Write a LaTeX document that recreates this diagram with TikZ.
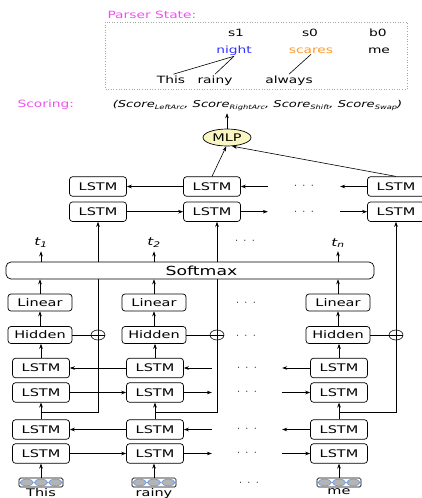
\documentclass[tikz,border=0pt]{standalone}
\usepackage{fontspec}
\setmainfont{DejaVu Sans}[FakeStretch=1.38]
\usepackage{xcolor}
\usepackage{tikz}
\usetikzlibrary{arrows.meta, positioning, shapes.geometric, backgrounds, calc}
\definecolor{titlepink}{HTML}{F050F0}
\definecolor{nightblue}{HTML}{3030FF}
\definecolor{scaresorange}{HTML}{FF9A2E}
\definecolor{mlpyellow}{HTML}{FAF6C2}
\definecolor{cellgray}{HTML}{B4B4B4}
\definecolor{cellblue}{HTML}{6C9BE6}
\newcommand{\sub}[1]{\raisebox{-2.5pt}{\fontsize{6}{7}\selectfont #1}}
\newcommand{\skiptext}{$\cdot\hspace{3pt}\cdot\hspace{3pt}\cdot$}

\begin{document}
\begin{tikzpicture}[
  x=1pt, y=-1pt,
  every node/.style={font=\fontsize{10.5}{12}\selectfont, align=center},
  lstmbox/.style={draw, rounded corners=3pt, fill=white, line width=0.7pt, minimum width=57pt, minimum height=19.5pt, inner sep=0pt},
  ffbox/.style={draw, rounded corners=3pt, fill=white, line width=0.7pt, minimum width=64pt, minimum height=17pt, inner sep=0pt},
  softbox/.style={draw, rounded corners=5pt, fill=white, line width=0.7pt, minimum width=368pt, minimum height=17pt, inner sep=0pt},
  mlpnode/.style={draw, ellipse, fill=mlpyellow, line width=0.7pt, minimum width=48pt, minimum height=17pt, inner sep=0pt},
  plusnode/.style={draw, ellipse, fill=white, line width=0.6pt, minimum width=14pt, minimum height=10pt, inner sep=0pt,
    path picture={\draw (path picture bounding box.west) -- (path picture bounding box.east)
                        (path picture bounding box.north) -- (path picture bounding box.south);}},
  wordvec/.style={draw, rounded corners=1.5pt, line width=0.7pt, minimum width=44pt, minimum height=9pt, inner sep=0pt,
    path picture={\foreach \dx in {-14.3,0,14.3}
      \draw[cellblue, fill=cellgray, line width=0.7pt] ([xshift=\dx pt]path picture bounding box.center) ellipse [x radius=6.6pt, y radius=3.3pt];}},
  skipdots/.style={minimum width=70pt, inner sep=0pt},
  tlabel/.style={font=\fontsize{11}{13}\selectfont\itshape},
  tok/.style={font=\fontsize{10}{12}\selectfont, inner sep=1pt, anchor=base},
  head/.style={font=\fontsize{10}{12}\selectfont, text=titlepink, anchor=base west},
  conn/.style={line width=0.6pt},
  arr/.style={-{Stealth[length=5pt, width=3.6pt]}, line width=0.6pt}
]
\useasboundingbox (0,0) rectangle (422,498);

% Parser state
\node[head] (pstitle) at (104,18.3) {Parser State:};
\draw[dotted, gray!70, line width=0.6pt] (105,22) rectangle (407,89);
\node[tok] (s1) at (236,36.5) {s1};
\node[tok] (s0) at (310,36.5) {s0};
\node[tok] (b0) at (378,36.5) {b0};
\node[tok, text=nightblue] (night) at (234,53) {night};
\node[tok, text=scaresorange] (scares) at (311,53) {scares};
\node[tok] (me) at (379,53) {me};
\node[tok] (this) at (171,83) {This};
\node[tok] (rainy) at (215,83) {rainy};
\node[tok] (always) at (289,83) {always};
\draw[conn] (night.south) -- (this.65);
\draw[conn] (night.south) -- (rainy.north);
\draw[conn] (scares.south) -- (always.north);

% Scoring
\node[head] (sctitle) at (14,107.3) {Scoring:};
\node[tok, font=\fontsize{9.5}{12}\selectfont\itshape] (score) at (257.5,107.3) {(Score\sub{LeftArc}, Score\sub{RightArc}, Score\sub{Shift}, Score\sub{Swap})};
\node[mlpnode] (mlp) at (227,137.5) {MLP};
\draw[arr, shorten >=1pt] (mlp.north) -- (mlp.north |- score.south);

% Upper BiLSTM
\node[lstmbox] (ub1) at (98,186.5) {LSTM};
\node[lstmbox, below=5pt of ub1] (uf1) {LSTM};
\node[lstmbox] (ub2) at (212,186.5) {LSTM};
\node[lstmbox, below=5pt of ub2] (uf2) {LSTM};
\node[lstmbox] (ub3) at (396,186.5) {LSTM};
\node[lstmbox, below=5pt of ub3] (uf3) {LSTM};
\node[skipdots, minimum width=72pt] (ubd) at ($(ub2)!0.5!(ub3)$) {\skiptext};
\node[skipdots, minimum width=72pt] (ufd) at ($(uf2)!0.5!(uf3)$) {\skiptext};
\draw[arr] (ub3.west) -- (ubd.east);
\draw[arr] (ubd.west) -- (ub2.east);
\draw[arr] (ub2.west) -- (ub1.east);
\draw[arr] (uf1.east) -- (uf2.west);
\draw[arr] (uf2.east) -- (ufd.west);
\draw[arr] (ufd.east) -- (uf3.west);
\draw[arr] (ub2.north) -- (mlp.-95);
\draw[arr] (ub3.north) -- (mlp.-60);

% Column 1: This
\node[wordvec] (v1) at (41,482.5) {};
\node[below=0pt of v1, inner sep=1pt] (w1) {This};
\node[lstmbox] (ld1) at (41,453.5) {LSTM};
\node[lstmbox] (lc1) at (41,429.5) {LSTM};
\node[lstmbox] (lb1) at (41,392.5) {LSTM};
\node[lstmbox] (la1) at (41,368) {LSTM};
\node[ffbox] (hid1) at (40,335) {Hidden};
\node[ffbox] (lin1) at (40,302.5) {Linear};
\node[tlabel] (t1) at (41,243) {t\textsubscript{1}};
\node[plusnode] (p1) at (uf1 |- hid1) {};

% Column 2: rainy
\node[wordvec] (v2) at (154,482.5) {};
\node[below=0pt of v2, inner sep=1pt] (w2) {rainy};
\node[lstmbox] (ld2) at (155,453.5) {LSTM};
\node[lstmbox] (lc2) at (155,429.5) {LSTM};
\node[lstmbox] (lb2) at (155,392.5) {LSTM};
\node[lstmbox] (la2) at (155,368) {LSTM};
\node[ffbox] (hid2) at (154,335) {Hidden};
\node[ffbox] (lin2) at (154,302.5) {Linear};
\node[tlabel] (t2) at (154,243) {t\textsubscript{2}};
\node[plusnode] (p2) at (217,335) {};

% Column 3: me
\node[wordvec] (v3) at (339,482.5) {};
\node[below=0pt of v3, inner sep=1pt] (w3) {me};
\node[lstmbox] (ld3) at (339,453.5) {LSTM};
\node[lstmbox] (lc3) at (339,429.5) {LSTM};
\node[lstmbox] (lb3) at (339,392.5) {LSTM};
\node[lstmbox] (la3) at (339,368) {LSTM};
\node[ffbox] (hid3) at (338,335) {Hidden};
\node[ffbox] (lin3) at (338,302.5) {Linear};
\node[tlabel] (t3) at (338,243) {t\textsubscript{n}};
\node[plusnode] (p3) at (uf3 |- hid3) {};

% dots between column 2 and 3
\node[skipdots] (dv) at (249,483) {\skiptext};
\node[skipdots] (dd) at ($(ld2)!0.5!(ld3)$) {\skiptext};
\node[skipdots] (dc) at ($(lc2)!0.5!(lc3)$) {\skiptext};
\node[skipdots] (db) at ($(lb2)!0.5!(lb3)$) {\skiptext};
\node[skipdots] (da) at ($(la2)!0.5!(la3)$) {\skiptext};
\node (dh) at (246,336) {\skiptext};
\node (dl) at (246,303) {\skiptext};
\node (dt) at (245,241) {\skiptext};

% skip lines into the upper BiLSTM (behind softmax)
\begin{scope}[on background layer]
\draw[conn] (lc1.north) -- ++(0,-7) -| (p1.south);
\draw[conn] (lc2.north) -- ++(0,-7) -| (p2.south);
\draw[conn] (lc3.north) -- ++(0,-7) -| (p3.south);
\draw[arr] (p1.north) -- (p1.north |- uf1.south);
\draw[arr] (p2.north) -- (p2.north |- uf2.south);
\draw[arr] (p3.north) -- (p3.north |- uf3.south);
\end{scope}

\node[softbox, label={[xshift=11.5pt, font=\fontsize{12.5}{14}\selectfont]center:Softmax}] (soft) at (190,270.5) {};

% vertical flow in each column
\draw[arr] (v1.north) -- (ld1.south);
\draw[arr] (lc1.north) -- (lb1.south);
\draw[arr] (la1.north) -- (la1.north |- hid1.south);
\draw[arr] (hid1.north) -- (lin1.south);
\draw[arr] (lin1.north) -- (lin1.north |- soft.south);
\draw[arr] (soft.north -| t1) -- (t1.south);
\draw[conn] (hid1.east) -- (p1.west);

\draw[arr] (v2.north) -- (v2.north |- ld2.south);
\draw[arr] (lc2.north) -- (lb2.south);
\draw[arr] (la2.north) -- (la2.north |- hid2.south);
\draw[arr] (hid2.north) -- (lin2.south);
\draw[arr] (lin2.north) -- (lin2.north |- soft.south);
\draw[arr] (soft.north -| t2) -- (t2.south);
\draw[conn] (hid2.east) -- (p2.west);

\draw[arr] (v3.north) -- (ld3.south);
\draw[arr] (lc3.north) -- (lb3.south);
\draw[arr] (la3.north) -- (la3.north |- hid3.south);
\draw[arr] (hid3.north) -- (lin3.south);
\draw[arr] (lin3.north) -- (lin3.north |- soft.south);
\draw[arr] (soft.north -| t3) -- (t3.south);
\draw[conn] (hid3.east) -- (p3.west);

% lower BiLSTM rows
\draw[arr] (ld1.east) -- (ld2.west);
\draw[arr] (ld2.east) -- (dd.west);
\draw[arr] (dd.east) -- (ld3.west);
\draw[arr] (lc3.west) -- (dc.east);
\draw[arr] (dc.west) -- (lc2.east);
\draw[arr] (lc2.west) -- (lc1.east);
\draw[arr] (lb1.east) -- (lb2.west);
\draw[arr] (lb2.east) -- (db.west);
\draw[arr] (db.east) -- (lb3.west);
\draw[arr] (la3.west) -- (da.east);
\draw[arr] (da.west) -- (la2.east);
\draw[arr] (la2.west) -- (la1.east);

\end{tikzpicture}
\end{document}
